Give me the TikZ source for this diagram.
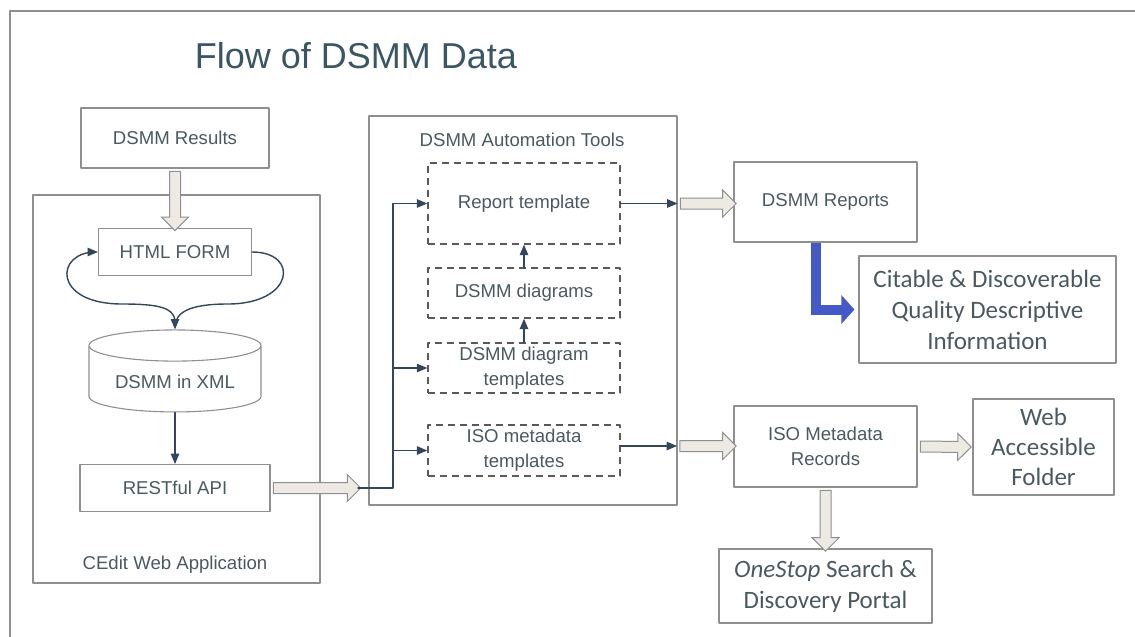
\documentclass[tikz,border=0pt]{standalone}
\usepackage{fontspec}
\setmainfont{Liberation Sans}
\newfontfamily\calfont{Carlito}
\usepackage{tikz}
\usetikzlibrary{
  shapes.geometric,
  shapes.arrows,
  calc,
  arrows.meta
}
\usetikzlibrary{arrows}
\definecolor{txtc}{HTML}{4A5960}
\definecolor{ttlc}{HTML}{3B5663}
\definecolor{edgec}{HTML}{8F8F8F}
\definecolor{wirec}{HTML}{34465A}
\definecolor{fatc}{HTML}{ECEAE3}
\definecolor{bluec}{HTML}{4559C6}
\newcommand{\fatarr}[2]{\path let \p1=(#1), \p2=(#2), \n1={veclen(\x2-\x1,\y2-\y1)} in (#1) -- (#2) node[fatarrow, midway, sloped, allow upside down, minimum height=\n1] {\rule{0pt}{10pt}};}

\begin{document}
\begin{tikzpicture}[line cap=round,line join=round,>=triangle 45,x=1pt,y=-1pt,
  box/.style={draw=edgec, line width=1.1pt, text=txtc, font=\fontsize{18.6}{25}\selectfont, align=center, inner sep=0pt},
  dbox/.style={box, draw=black!65, dash pattern=on 7pt off 5pt, line width=1.5pt, line cap=butt},
  cbox/.style={box, font=\calfont\fontsize{25}{31}\selectfont},
  lbl/.style={text=txtc, font=\fontsize{18.6}{25}\selectfont, inner sep=0pt},
  wire/.style={draw=wirec, line width=1.4pt, ->},
  fatarrow/.style={single arrow, draw=edgec, fill=fatc, line width=1pt, line join=miter, inner sep=0pt, single arrow head extend=8pt}]
\useasboundingbox (0,0) rectangle (1135,637);
\draw [edgec, line width=2.5pt, line cap=butt] (10,637) -- (10,11) -- (1135,11);
\node [text=ttlc, font=\fontsize{36}{40}\selectfont, anchor=base] (title) at (356,68) {Flow of DSMM Data};
% left part
\node [box, minimum width=188pt, minimum height=60pt] (res) at (175,138) {DSMM Results};
\node [box, minimum width=287pt, minimum height=388pt] (cedit) at (176.5,389) {};
\node [lbl, anchor=base] (ceditlbl) at (175,569) {CEdit Web Application};
\node [box, minimum width=153pt, minimum height=47pt] (html) at (175,252) {HTML FORM};
\node [box, cylinder, shape border rotate=90, aspect=0.26, minimum width=172pt, minimum height=82pt] (xml) at (175,379) {\phantom{DSMM in XML}};
\node [lbl] (xmllbl) at (175,382) {DSMM in XML};
\node [box, minimum width=190pt, minimum height=47pt] (rest) at (175,488) {RESTful API};
\fatarr{res.south}{html.north}
\coordinate (fork) at (175,320);
\draw [wire] (html.east) .. controls (300,252) and (294,304) .. (228,304) .. controls (190,304) and (175,312) .. (xml.north);
\draw [wire] (fork) .. controls (173,308) and (160,304) .. (122,304) .. controls (52,304) and (55,252) .. (html.west);
\draw [wire] (xml.south) -- (rest.north);
% automation tools
\node [box, minimum width=308pt, minimum height=389pt] (auto) at (523,310.5) {};
\node [lbl] (autolbl) at (522,140) {DSMM Automation Tools};
\node [dbox, minimum width=192pt, minimum height=81pt] (rpt) at (524,203.5) {Report template};
\node [dbox, minimum width=192pt, minimum height=50pt] (dgm) at (524,293) {DSMM diagrams};
\node [dbox, minimum width=192pt, minimum height=50pt] (dgt) at (524,368) {DSMM diagram\\templates};
\node [dbox, minimum width=192pt, minimum height=51pt] (isot) at (524,450.5) {ISO metadata\\templates};
\coordinate (j) at (358,488);
\coordinate (bus) at (393,488);
\fatarr{rest.east}{j}
\draw [wire] (j) -- (bus) |- (rpt.west);
\draw [wire] (bus |- dgt.west) -- (dgt.west);
\draw [wire] (bus |- isot.west) -- (isot.west);
\draw [wire] (dgm.north) -- (rpt.south);
\draw [wire] (dgt.north) -- (dgm.south);
% right part
\node [box, minimum width=183pt, minimum height=80pt] (rep) at (825.5,202) {DSMM Reports};
\node [cbox, minimum width=257pt, minimum height=107pt] (cit) at (987.5,309.5) {Citable \& Discoverable\\Quality Descriptive\\Information};
\node [box, minimum width=183pt, minimum height=81pt] (rec) at (825.5,446.5) {ISO Metadata\\Records};
\node [cbox, minimum width=141pt, minimum height=96pt, font=\calfont\fontsize{25}{30}\selectfont] (web) at (1043.5,447) {Web\\Accessible\\Folder};
\node [cbox, minimum width=213pt, minimum height=74pt] (one) at (825.5,586) {\textit{OneStop} Search \&\\Discovery Portal};
\coordinate (k1) at (auto.east |- rpt.east);
\coordinate (k2) at (677,446);
\draw [wire] (rpt.east) -- (k1);
\draw [wire] (isot.east |- k2) -- (k2);
\fatarr{k1}{rep.west |- k1}
\fatarr{k2}{rec.west |- k2}
\fatarr{rec.east}{$(web.west)+(-4,0)$}
\fatarr{rec.south}{one.north}
\draw [line width=10pt, bluec, line join=miter, line cap=butt, -{Triangle[length=13pt,width=28pt]}] ([xshift=-10pt]rep.south) |- ([xshift=-4pt]cit.west);
\end{tikzpicture}
\end{document}
